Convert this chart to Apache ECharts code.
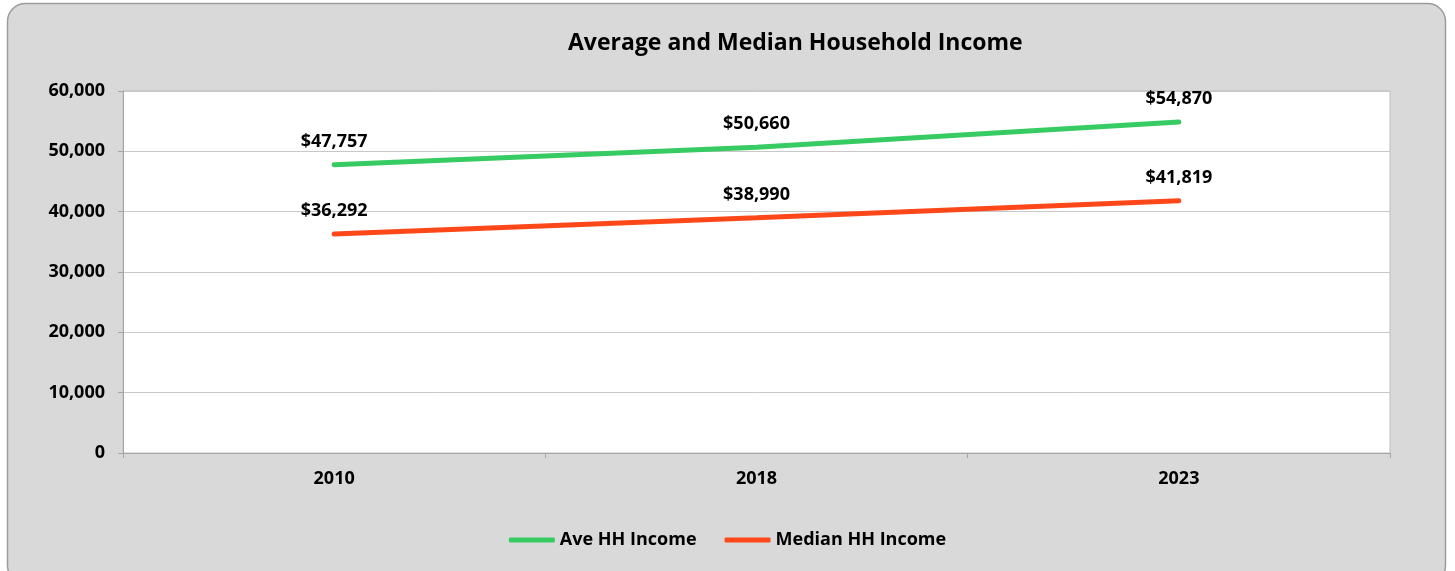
<!DOCTYPE html>
<html>
<head>
<meta charset="utf-8">
<script src="https://cdn.jsdelivr.net/npm/echarts@6/dist/echarts.min.js"></script>
<style>
  html, body { margin: 0; padding: 0; background: #fff; }
  #chart { width: 1455px; height: 571px; }
</style>
</head>
<body>
<div id="chart"></div>
<script>
// 年份
const years = ['2010', '2018', '2023']
// 平均 / 中位数 家庭收入
const aveIncome = [47757, 50660, 54870]
const medianIncome = [36292, 38990, 41819]
const yTicks = [0, 10000, 20000, 30000, 40000, 50000, 60000]

const font = '"Open Sans", "Noto Sans", sans-serif'
const money = v => '$' + v.toLocaleString('en-US')

const myChart = echarts.init(document.getElementById('chart'))

const lineSeries = (name, data, color) => ({
  name,
  type: 'line',
  data,
  symbol: 'circle',
  symbolSize: 0,
  showSymbol: true,
  color,
  lineStyle: { width: 5, cap: 'round' },
  label: {
    show: true, position: 'top', distance: 14,
    fontSize: 18, fontWeight: 'bold', color: '#000', fontFamily: font,
    formatter: p => money(p.value)
  }
})

const option = {
  animation: false,
  textStyle: { fontFamily: font },
  graphic: [{
    type: 'rect',
    z: -10,
    shape: { x: 7.5, y: 3.5, width: 1438, height: 580, r: 18 },
    style: { fill: '#d9d9d9', stroke: '#9c9c9c', lineWidth: 1.5 }
  }],
  title: {
    text: 'Average and Median Household Income',
    left: 563,
    top: 27,
    textStyle: { fontFamily: font, fontSize: 23, fontWeight: 'bold', color: '#000' }
  },
  legend: {
    bottom: 17,
    left: 'center',
    icon: 'roundRect',
    itemWidth: 46,
    itemHeight: 5,
    itemGap: 28,
    textStyle: { fontFamily: font, fontSize: 18, fontWeight: 'bold', color: '#000' },
    data: ['Ave HH Income', 'Median HH Income']
  },
  grid: {
    left: 123,
    right: 65,
    top: 91,
    bottom: 118,
    show: true,
    backgroundColor: '#fff',
    borderColor: '#bdbdbd',
    borderWidth: 1
  },
  xAxis: {
    type: 'category',
    data: years,
    boundaryGap: true,
    axisLine: { lineStyle: { color: '#a6a6a6' } },
    axisTick: { show: true, length: 5, lineStyle: { color: '#a6a6a6' } },
    axisLabel: { margin: 17, fontSize: 18, fontWeight: 'bold', color: '#000', fontFamily: font }
  },
  yAxis: {
    type: 'value',
    min: yTicks[0],
    max: yTicks[yTicks.length - 1],
    interval: 10000,
    axisLine: { show: true, lineStyle: { color: '#a6a6a6' } },
    axisTick: { show: true, length: 5, lineStyle: { color: '#a6a6a6' } },
    axisLabel: {
      margin: 18, fontSize: 18, fontWeight: 'bold', color: '#000', fontFamily: font,
      formatter: v => v.toLocaleString('en-US')
    },
    splitLine: { lineStyle: { color: '#c8c8c8' } }
  },
  series: [
    lineSeries('Ave HH Income', aveIncome, '#36cc63'),
    lineSeries('Median HH Income', medianIncome, '#ff4819')
  ]
}
myChart.setOption(option, true)
window.addEventListener('resize', () => myChart.resize())
</script>
</body>
</html>
